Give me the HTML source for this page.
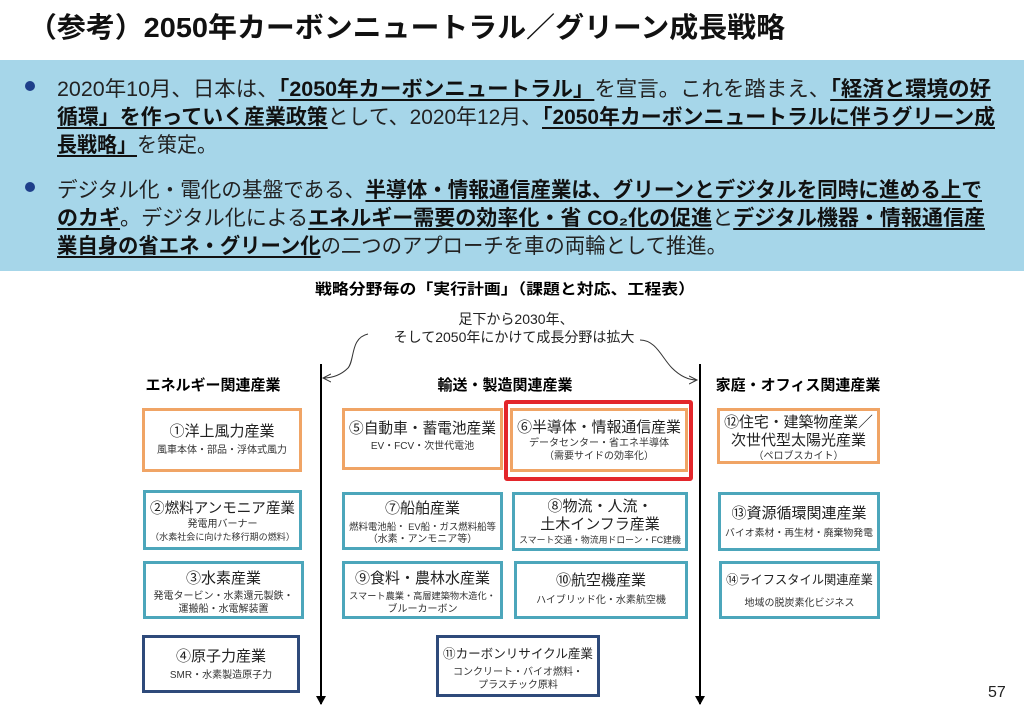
<!DOCTYPE html>
<html><head><meta charset="utf-8"><style>
body{margin:0;width:1024px;height:709px;position:relative;background:#fff;font-family:"Liberation Sans","Noto Sans CJK JP",sans-serif;overflow:hidden;color:#000}
.a{position:absolute;white-space:nowrap}
.f{position:absolute;white-space:nowrap;transform-origin:0 0}
.c{position:absolute;white-space:nowrap;text-align:center;transform-origin:50% 0}
.blue{position:absolute;left:0;top:60px;width:1024px;height:211px;background:#a6d6e9}
.bl{font-size:21px;color:#222}
.bl b{font-weight:bold;text-decoration:underline;text-decoration-thickness:2px;text-underline-offset:3px;color:#111}
.dot{position:absolute;width:10px;height:10px;border-radius:50%;background:#1f3f8a}
.box{position:absolute;box-sizing:border-box;border:3px solid;text-align:center;background:#fff}
.box>div{white-space:nowrap}
.o{border-color:#f0a465}.t{border-color:#4ca6bb}.n{border-color:#2e4a7a}
.box .h{font-size:15px;line-height:18px;color:#222}
.box .s{font-size:10px;line-height:13px;color:#333}
.hd{font-size:15px;font-weight:bold}
</style></head><body>
<div class="f" style="left:28px;top:6px;font-size:28px;font-weight:bold;color:#111" w="757">（参考）2050年カーボンニュートラル／グリーン成長戦略</div>
<div class="blue"></div>
<div class="dot" style="left:25px;top:81px"></div>
<div class="dot" style="left:25px;top:182px"></div>
<div class="f bl" style="left:57px;top:73px" w="934">2020年10月、日本は、<b>「2050年カーボンニュートラル」</b>を宣言。これを踏まえ、<b>「経済と環境の好</b></div>
<div class="f bl" style="left:57px;top:101px" w="938"><b>循環」を作っていく産業政策</b>として、2020年12月、<b>「2050年カーボンニュートラルに伴うグリーン成</b></div>
<div class="f bl" style="left:57px;top:129px" w="160"><b>長戦略」</b>を策定。</div>
<div class="f bl" style="left:57px;top:174px" w="925">デジタル化・電化の基盤である、<b>半導体・情報通信産業は、グリーンとデジタルを同時に進める上で</b></div>
<div class="f bl" style="left:57px;top:202px" w="928"><b>のカギ</b>。デジタル化による<b>エネルギー需要の効率化・省 CO₂化の促進</b>と<b>デジタル機器・情報通信産</b></div>
<div class="f bl" style="left:57px;top:230px" w="670"><b>業自身の省エネ・グリーン化</b>の二つのアプローチを車の両輪として推進。</div>

<div class="f hd" style="left:315px;top:278px" w="380">戦略分野毎の「実行計画」（課題と対応、工程表）</div>
<div class="a" style="left:0;width:1024px;text-align:center;top:309px;font-size:14px;color:#222;padding-left:8px;box-sizing:border-box">足下から2030年、</div>
<div class="a" style="left:0;width:1024px;text-align:center;top:327px;font-size:14px;color:#222;padding-left:4px;box-sizing:border-box">そして2050年にかけて成長分野は拡大</div>

<svg style="position:absolute;left:0;top:0" width="1024" height="709">
<defs><marker id="ar" markerWidth="10" markerHeight="10" refX="8" refY="5" orient="auto" markerUnits="userSpaceOnUse"><path d="M0,0 L9,5 L0,10 z" fill="#000"/></marker>
<marker id="oa" markerWidth="10" markerHeight="10" refX="8" refY="5" orient="auto" markerUnits="userSpaceOnUse"><path d="M0,1 L8,5 L0,9" fill="none" stroke="#333" stroke-width="1"/></marker></defs>
<line x1="321" y1="364" x2="321" y2="704" stroke="#000" stroke-width="2" marker-end="url(#ar)"/>
<line x1="700" y1="364" x2="700" y2="704" stroke="#000" stroke-width="2" marker-end="url(#ar)"/>
<path d="M368,334 C350,338 355,360 348,368 C340,376 330,378 323,378" fill="none" stroke="#333" stroke-width="1" marker-end="url(#oa)"/>
<path d="M640,340 C656,340 662,358 672,368 C680,376 688,380 697,380" fill="none" stroke="#333" stroke-width="1" marker-end="url(#oa)"/>
</svg>

<div class="c hd" style="left:113px;width:200px;top:374px">エネルギー関連産業</div>
<div class="c hd" style="left:405px;width:200px;top:374px">輸送・製造関連産業</div>
<div class="c hd" style="left:698px;width:200px;top:374px">家庭・オフィス関連産業</div>

<div class="a" style="left:504px;top:400px;width:189px;height:81px;box-sizing:border-box;border:4px solid #e3262b;border-radius:3px"></div>

<div class="box o" style="left:142px;top:408px;width:160px;height:64px;padding-top:12px"><div class="h">①洋上風力産業</div><div class="s" style="margin-top:3px">風車本体・部品・浮体式風力</div></div>
<div class="box o" style="left:342px;top:408px;width:161px;height:62px;padding-top:9px"><div class="h">⑤自動車・蓄電池産業</div><div class="s" style="margin-top:2px">EV・FCV・次世代電池</div></div>
<div class="box o" style="left:510px;top:408px;width:178px;height:64px;padding-top:8px"><div class="h">⑥半導体・情報通信産業</div><div class="s">データセンター・省エネ半導体</div><div class="s">（需要サイドの効率化）</div></div>
<div class="box o" style="left:717px;top:408px;width:163px;height:56px;padding-top:3px"><div class="h">⑫住宅・建築物産業／</div><div class="h">次世代型太陽光産業</div><div class="s">（ペロブスカイト）</div></div>

<div class="box t" style="left:143px;top:490px;width:159px;height:60px;padding-top:7px"><div class="h">②燃料アンモニア産業</div><div class="s">発電用バーナー</div><div class="s">（水素社会に向けた移行期の燃料）</div></div>
<div class="box t" style="left:342px;top:492px;width:161px;height:58px;padding-top:5px"><div class="h">⑦船舶産業</div><div class="s" style="margin-top:2px">燃料電池船・ EV船・ガス燃料船等</div><div class="s">（水素・アンモニア等）</div></div>
<div class="box t" style="left:512px;top:492px;width:176px;height:59px;padding-top:3px"><div class="h">⑧物流・人流・</div><div class="h">土木インフラ産業</div><div class="s">スマート交通・物流用ドローン・FC建機</div></div>
<div class="box t" style="left:718px;top:492px;width:162px;height:59px;padding-top:10px"><div class="h">⑬資源循環関連産業</div><div class="s" style="margin-top:4px">バイオ素材・再生材・廃棄物発電</div></div>

<div class="box t" style="left:143px;top:561px;width:161px;height:58px;padding-top:6px"><div class="h">③水素産業</div><div class="s" style="margin-top:2px">発電タービン・水素還元製鉄・</div><div class="s">運搬船・水電解装置</div></div>
<div class="box t" style="left:342px;top:561px;width:161px;height:58px;padding-top:6px"><div class="h">⑨食料・農林水産業</div><div class="s" style="margin-top:2px">スマート農業・高層建築物木造化・</div><div class="s">ブルーカーボン</div></div>
<div class="box t" style="left:514px;top:561px;width:174px;height:58px;padding-top:8px"><div class="h">⑩航空機産業</div><div class="s" style="margin-top:4px">ハイブリッド化・水素航空機</div></div>
<div class="box t" style="left:719px;top:561px;width:161px;height:58px;padding-top:7px"><div class="h">⑭ライフスタイル関連産業</div><div class="s" style="margin-top:8px">地域の脱炭素化ビジネス</div></div>

<div class="box n" style="left:142px;top:635px;width:158px;height:58px;padding-top:10px"><div class="h">④原子力産業</div><div class="s" style="margin-top:3px">SMR・水素製造原子力</div></div>
<div class="box n" style="left:436px;top:635px;width:164px;height:62px;padding-top:7px"><div class="h">⑪カーボンリサイクル産業</div><div class="s" style="margin-top:3px">コンクリート・バイオ燃料・</div><div class="s">プラスチック原料</div></div>

<div class="a" style="left:988px;top:684px;font-size:16px;color:#222">57</div>
<script>
document.querySelectorAll('.f').forEach(function(e){
 var w=parseFloat(e.getAttribute('w'));
 if(!w) return;
 var r=e.getBoundingClientRect().width;
 if(r>0) e.style.transform='scaleX('+(w/r)+')';
});
document.querySelectorAll('.box>div').forEach(function(d){
 var sp=document.createElement('span');
 while(d.firstChild) sp.appendChild(d.firstChild);
 d.appendChild(sp);
 var avail=d.parentNode.clientWidth-8;
 var w=sp.getBoundingClientRect().width;
 if(w>avail){
  var fs=parseFloat(getComputedStyle(d).fontSize);
  d.style.fontSize=(fs*avail/w)+'px';
 }
});
</script>
</body></html>
